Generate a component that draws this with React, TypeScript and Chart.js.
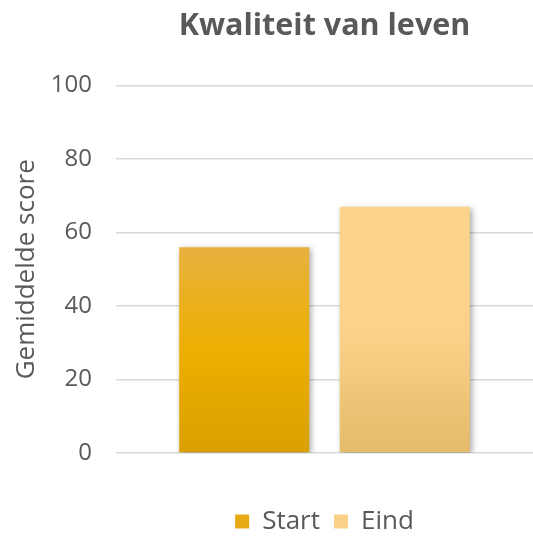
import React, { useEffect, useRef } from "react";
import { Chart, registerables } from "chart.js";

Chart.register(...registerables);

const categories = ["Kwaliteit van leven"];
const seriesNames = ["Start", "Eind"];
const startValues = [56];
const eindValues = [67];
const yTicks = [0, 20, 40, 60, 80, 100];

const FONT = "'Open Sans', 'Noto Sans', sans-serif";
const TEXT = "#595959";

const gradStops = [
  ["#E8B13F", "#EDAF00", "#D9A000"],
  ["#FBD38D", "#FCD28A", "#E3BB69"],
];
const legendColors = ["#E8AA12", "#FBD18A"];

function barGradient(ctx: any, idx: number) {
  const chart = ctx.chart;
  const ys = chart.scales?.y;
  if (!ys || ctx.dataIndex === undefined || !ctx.raw) return gradStops[idx][1];
  const top = ys.getPixelForValue(ctx.raw);
  const bot = ys.getPixelForValue(0);
  const g = chart.ctx.createLinearGradient(0, top, 0, bot);
  g.addColorStop(0, gradStops[idx][0]);
  g.addColorStop(0.5, gradStops[idx][1]);
  g.addColorStop(1, gradStops[idx][2]);
  return g;
}

const LEGEND_TARGET_CENTER = 524;

const centerPlugin = {
  id: "centerOnArea",
  beforeDraw(chart: any) {
    const a = chart.chartArea;
    const w = chart.width;
    const shift = (a.left + a.right) / 2 - w / 2;
    if (chart.titleBlock) {
      chart.titleBlock.left = shift;
      chart.titleBlock.right = w + shift;
    }
    if (chart.legend) {
      const lg = chart.legend;
      lg.left = shift;
      lg.right = w + shift;
      const pad = lg.options.labels.padding;
      const lh = 26 * 1.2;
      const newTop = LEGEND_TARGET_CENTER - pad - lh / 2;
      const h = lg.bottom - lg.top;
      lg.top = newTop;
      lg.bottom = newTop + h;
    }
  },
};

const shadowPlugin = {
  id: "barShadow",
  beforeDatasetsDraw(chart: any) {
    const c = chart.ctx;
    c.save();
    c.shadowColor = "rgba(0,0,0,0.35)";
    c.shadowBlur = 6;
    c.shadowOffsetX = 2;
    c.shadowOffsetY = 2;
  },
  afterDatasetsDraw(chart: any) {
    chart.ctx.restore();
  },
};

export default function App() {
  const ref = useRef<HTMLCanvasElement>(null);
  useEffect(() => {
    if (!ref.current) return;
    const chart = new Chart(ref.current, {
      type: "bar",
      data: {
        labels: categories,
        datasets: [
          {
            label: seriesNames[0],
            data: startValues,
            backgroundColor: (c: any) => barGradient(c, 0),
            categoryPercentage: 0.77,
            barPercentage: 0.81,
          },
          {
            label: seriesNames[1],
            data: eindValues,
            backgroundColor: (c: any) => barGradient(c, 1),
            categoryPercentage: 0.77,
            barPercentage: 0.81,
          },
        ],
      },
      options: {
        animation: false,
        responsive: false,
        maintainAspectRatio: false,
        layout: { padding: { top: 0, right: 0, bottom: 0, left: 0 } },
        plugins: {
          tooltip: { enabled: false },
          title: {
            display: true,
            text: "Kwaliteit van leven",
            color: TEXT,
            font: { family: FONT, size: 30.5, weight: "bold" },
            padding: { top: 8, bottom: 41 },
          },
          legend: {
            position: "bottom",
            labels: {
              color: TEXT,
              font: { family: FONT, size: 26 },
              boxWidth: 14,
              boxHeight: 14,
              padding: 14,
              generateLabels: () =>
                seriesNames.map((n, i) => ({
                  text: n,
                  fillStyle: legendColors[i],
                  strokeStyle: legendColors[i],
                  lineWidth: 0,
                  hidden: false,
                  datasetIndex: i,
                  fontColor: TEXT,
                })),
            },
          },
        },
        scales: {
          x: {
            ticks: { display: false },
            grid: { display: false },
            border: { display: false },
            afterFit: (s: any) => {
              const lh = s.chart.legend ? s.chart.legend.height : 59;
              s.height = Math.max(0, 536 - 453 - lh);
            },
          },
          y: {
            min: 0,
            max: 100,
            afterBuildTicks: (s: any) => {
              s.ticks = yTicks.map((v) => ({ value: v }));
            },
            ticks: {
              color: TEXT,
              font: { family: FONT, size: 24 },
              padding: 24,
            },
            grid: { color: "#D9D9D9", lineWidth: 1.5, drawTicks: false },
            border: { display: false },
            title: {
              display: true,
              text: "Gemiddelde score",
              color: TEXT,
              font: { family: FONT, size: 26 },
              padding: { top: 11, bottom: 0 },
            },
            afterFit: (s: any) => {
              s.width = 116;
            },
          },
        },
      } as any,
      plugins: [centerPlugin, shadowPlugin],
    });
    return () => chart.destroy();
  }, []);
  return (
    <div style={{ position: "fixed", left: 0, top: 0, width: 533, height: 536, background: "#fff" }}>
      <canvas ref={ref} width={533} height={536} style={{ width: 533, height: 536 }} />
    </div>
  );
}
